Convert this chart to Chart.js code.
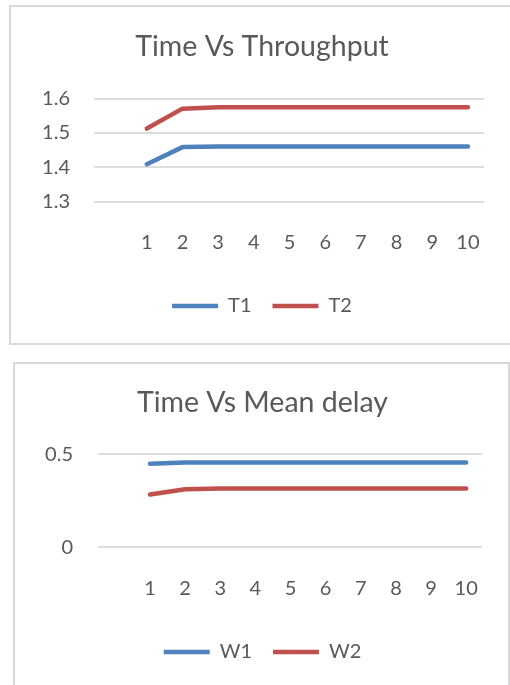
<!DOCTYPE html>
<html>
<head>
<meta charset="utf-8">
<script src="https://cdn.jsdelivr.net/npm/chart.js@4/dist/chart.umd.min.js"></script>
<style>
  html, body { margin: 0; padding: 0; background: #ffffff; overflow: hidden; }
  body { width: 510px; height: 685px; position: relative; }
  .frame { position: absolute; border: 2px solid #d9d9d9; box-sizing: border-box; }
  #frameTop { left: 9px; top: 5px; width: 540px; height: 340px; }
  #frameBottom { left: 13px; top: 362px; width: 497px; height: 360px; }
  canvas { position: absolute; }
  #throughput { left: 40px; top: 7px; }
  #delay { left: 43px; top: 364px; }
</style>
</head>
<body>
<div class="frame" id="frameTop"></div>
<div class="frame" id="frameBottom"></div>
<canvas id="throughput" width="470" height="336" style="width:470px;height:336px"></canvas>
<canvas id="delay" width="465" height="321" style="width:465px;height:321px"></canvas>
<script>
// Simulation time steps
const TIME = [1, 2, 3, 4, 5, 6, 7, 8, 9, 10];

// Throughput per time step
const T1 = [1.409, 1.459, 1.461, 1.461, 1.461, 1.461, 1.461, 1.461, 1.461, 1.461];
const T2 = [1.513, 1.571, 1.575, 1.575, 1.575, 1.575, 1.575, 1.575, 1.575, 1.575];

// Mean delay per time step
const W1 = [0.450, 0.456, 0.457, 0.457, 0.457, 0.457, 0.457, 0.457, 0.457, 0.457];
const W2 = [0.284, 0.312, 0.316, 0.316, 0.316, 0.316, 0.316, 0.316, 0.316, 0.316];

// Value axis ticks
const Y_TICKS_THROUGHPUT = [1.3, 1.4, 1.5, 1.6];
const Y_TICKS_DELAY = [0, 0.5];

const BLUE = '#4f81bd';
const RED = '#c0504d';
const TEXT = '#595959';
const GRID = '#dcdcdc';

Chart.defaults.font.family = 'Lato, "Open Sans", sans-serif';
Chart.defaults.color = TEXT;

function series(label, values, color) {
  return {
    label: label,
    data: TIME.map((t, i) => ({ x: t, y: values[i] })),
    borderColor: color,
    backgroundColor: color,
    borderWidth: 4.5,
    borderCapStyle: 'round',
    borderJoinStyle: 'round',
    pointRadius: 0,
    pointHoverRadius: 0,
    tension: 0,
    fill: false
  };
}

function makeChart(canvasId, title, datasets, yTicks, yMin, yMax, fmt, g) {
  return new Chart(document.getElementById(canvasId), {
    type: 'line',
    data: { datasets: datasets },
    options: {
      responsive: false,
      animation: false,
      events: [],
      layout: { padding: { left: 0, right: 26, top: 0, bottom: g.padBottom } },
      plugins: {
        title: {
          display: true,
          text: title,
          color: TEXT,
          font: { size: 28.5, weight: 'normal' },
          padding: { top: g.titleTop, bottom: g.titleBottom }
        },
        legend: {
          display: true,
          position: 'bottom',
          labels: {
            usePointStyle: true,
            pointStyle: 'line',
            pointStyleWidth: 46,
            padding: 21,
            color: TEXT,
            font: { size: 20 }
          }
        },
        tooltip: { enabled: false }
      },
      scales: {
        x: {
          type: 'linear',
          min: -0.48,
          max: 10.45,
          afterBuildTicks: (s) => { s.ticks = TIME.map(v => ({ value: v })); },
          afterFit: (s) => { s.height = g.xHeight; },
          ticks: { padding: 29, font: { size: 20 }, color: TEXT, maxRotation: 0, autoSkip: false },
          grid: { display: false, drawTicks: false },
          border: { display: false }
        },
        y: {
          min: yMin,
          max: yMax,
          afterBuildTicks: (s) => { s.ticks = yTicks.map(v => ({ value: v })); },
          afterFit: (s) => { s.width = g.yWidth; },
          ticks: { padding: g.yPad, font: { size: 20 }, color: TEXT, callback: fmt },
          grid: { color: GRID, lineWidth: 2, drawTicks: false },
          border: { display: false }
        }
      }
    }
  });
}

function draw() {
  makeChart('throughput', 'Time Vs Throughput',
    [series('T1', T1, BLUE), series('T2', T2, RED)],
    Y_TICKS_THROUGHPUT, 1.3, 1.6, (v) => Number(v).toFixed(1),
    { padBottom: 17, titleTop: 22.9, titleBottom: 34.6, xHeight: 73.3, yWidth: 54, yPad: 24 });

  makeChart('delay', 'Time Vs Mean delay',
    [series('W1', W1, BLUE), series('W2', W2, RED)],
    Y_TICKS_DELAY, 0, 0.5, (v) => (v === 0 ? '0' : Number(v).toFixed(1)),
    { padBottom: 13, titleTop: 21.9, titleBottom: 34.3, xHeight: 73.7, yWidth: 55, yPad: 25 });
}

if (document.fonts && document.fonts.load) {
  Promise.all([document.fonts.load('20px Lato'), document.fonts.load('28px Lato')]).then(draw, draw);
} else {
  draw();
}
</script>
</body>
</html>
